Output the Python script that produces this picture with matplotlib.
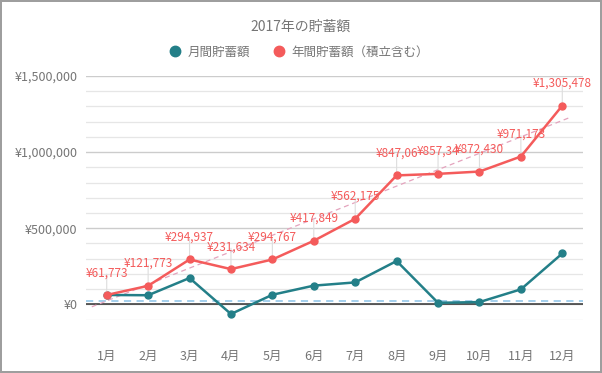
import matplotlib
matplotlib.use("Agg")
import matplotlib.pyplot as plt
from matplotlib.ticker import FuncFormatter, MultipleLocator
from matplotlib.lines import Line2D

plt.rcParams['font.family'] = ['Noto Sans CJK JP', 'DejaVu Sans']

months = ['1月', '2月', '3月', '4月', '5月', '6月', '7月', '8月', '9月', '10月', '11月', '12月']
monthly = [61773, 60000, 173164, -63303, 63133, 123082, 144326, 284885, 10280, 15090, 98743, 334305]
yearly = [61773, 121773, 294937, 231634, 294767, 417849, 562175, 847060, 857340, 872430, 971173, 1305478]
yearly_labels = ['¥61,773', '¥121,773', '¥294,937', '¥231,634', '¥294,767', '¥417,849',
                 '¥562,175', '¥847,06', '¥857,34', '¥872,430', '¥971,173', '¥1,305,478']
# trend line and the flat dashed reference line
trend_x = [0.64, 12.15]
trend_y = [-16000, 1224000]
target = 21000

teal = '#237f88'
red = '#f45b5b'
gray_txt = '#757575'

fig = plt.figure(figsize=(6.02, 3.73), dpi=100)
fig.patch.set_edgecolor('#9e9e9e')
fig.patch.set_linewidth(1.5)
ax = fig.add_axes([86/602, 1-319.6/373, (583-86)/602, (319.6-76)/373])

x = list(range(1, 13))

ax.set_xlim(0.5, 12.5)
ax.set_ylim(-100000, 1500000)
ax.yaxis.set_major_locator(MultipleLocator(500000))
ax.yaxis.set_minor_locator(MultipleLocator(100000))
ax.grid(True, which='minor', axis='y', color='#e6e6e6', lw=0.9)
ax.grid(True, which='major', axis='y', color='#cccccc', lw=1.0)
ax.set_axisbelow(True)
for s in ax.spines.values():
    s.set_visible(False)
ax.tick_params(axis='both', which='both', length=0)
ax.yaxis.set_major_formatter(FuncFormatter(lambda v, p: '¥{:,.0f}'.format(v)))
ax.set_xticks(x)
ax.set_xticklabels(months)
ax.tick_params(axis='x', pad=22, labelsize=9, labelcolor=gray_txt)
ax.tick_params(axis='y', pad=6, labelsize=9, labelcolor=gray_txt)

ax.axhline(0, color='#333333', lw=1.1, zorder=2)
ax.axhline(target, color='#9ccbec', lw=1.3, ls=(0, (4, 3)), zorder=2)
ax.plot(trend_x, trend_y, color='#e4a3bd', lw=0.9, ls=(0, (4, 3)), zorder=2)

ax.plot(x, monthly, color=teal, lw=1.8, marker='o', ms=5, zorder=3)
ax.plot(x, yearly, color=red, lw=1.8, marker='o', ms=5, zorder=4)

for xi, yi, lab in zip(x, yearly, yearly_labels):
    ax.annotate('', xy=(xi, yi), xytext=(0, 15), textcoords='offset points',
                xycoords='data',
                arrowprops=dict(arrowstyle='-', color='#dddddd', lw=0.8,
                                shrinkA=0, shrinkB=0), zorder=3)
    ax.annotate(lab, xy=(xi, yi), xytext=(0, 16), textcoords='offset points',
                ha='center', va='center', color=red, fontsize=8.5, zorder=5)

fig.text(0.5, 1-27/373, '2017年の貯蓄額', ha='center', va='center',
         color=gray_txt, fontsize=10)
handles = [Line2D([], [], ls='none', marker='o', ms=7.5, color=teal),
           Line2D([], [], ls='none', marker='o', ms=7.5, color=red)]
fig.legend(handles, ['月間貯蓄額', '年間貯蓄額（積立含む）'], loc='center',
           bbox_to_anchor=(0.497, 1-52/373), ncol=2, frameon=False,
           fontsize=9, labelcolor=gray_txt, handletextpad=0.5, columnspacing=1.8,
           handlelength=1.0)

fig.savefig('out.png', dpi=100, edgecolor=fig.get_edgecolor())
